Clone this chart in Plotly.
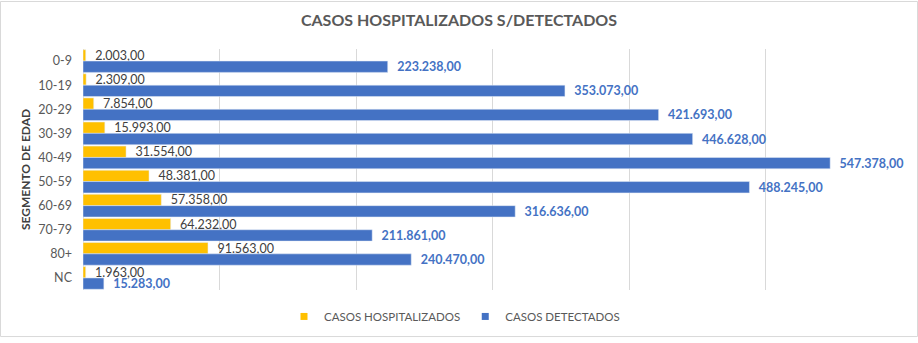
import plotly.graph_objects as go

categories = ["0-9", "10-19", "20-29", "30-39", "40-49", "50-59", "60-69", "70-79", "80+", "NC"]
hospitalizados = [2003, 2309, 7854, 15993, 31554, 48381, 57358, 64232, 91563, 1963]
detectados = [223238, 353073, 421693, 446628, 547378, 488245, 316636, 211861, 240470, 15283]

W, H = 918, 343
ML, MR, MT, MB = 83, 16, 49, 48
FONT = "Lato, Open Sans, sans-serif"
YEL, BLU = "#FFC000", "#4472C4"

fig = go.Figure()
fig.add_trace(go.Bar(
    y=categories, x=hospitalizados, orientation="h", name="CASOS HOSPITALIZADOS",
    marker_color=YEL, texttemplate="  %{x:,.2f}",
    textposition="outside", cliponaxis=False, constraintext="none", showlegend=False,
    textfont=dict(family=FONT, size=12.5, color="#404040"),
))
fig.add_trace(go.Bar(
    y=categories, x=detectados, orientation="h", name="CASOS DETECTADOS",
    marker_color=BLU, texttemplate="  <b>%{x:,.2f}</b>",
    textposition="outside", cliponaxis=False, constraintext="none", showlegend=False,
    textfont=dict(family=FONT, size=12.5, color=BLU),
))
for nm, col in [("CASOS HOSPITALIZADOS", YEL), ("CASOS DETECTADOS", BLU)]:
    fig.add_trace(go.Scatter(x=[None], y=[None], mode="markers", name=nm,
                             marker=dict(symbol="square", size=7, color=col)))

pw = W - ML - MR
ph = H - MT - MB
fig.add_shape(type="rect", xref="paper", yref="paper",
              x0=(0.5 - ML) / pw, x1=(W - 0.5 - ML) / pw,
              y0=-(MB - 0.5) / ph, y1=1 + (MT - 0.5) / ph,
              line=dict(color="#D9D9D9", width=1), fillcolor="rgba(0,0,0,0)", layer="below")

fig.update_layout(
    width=W, height=H,
    margin=dict(l=ML, r=MR, t=MT, b=MB),
    paper_bgcolor="white", plot_bgcolor="white",
    separators=",.",
    barmode="group", bargap=0.06, bargroupgap=0,
    title=dict(text="<b>CASOS HOSPITALIZADOS S/DETECTADOS</b>", x=0.5, xanchor="center",
               y=1 - 20 / H, yanchor="middle",
               font=dict(family=FONT, size=16, color="#595959")),
    xaxis=dict(range=[0, 600000], dtick=100000, showticklabels=False, showgrid=True,
               gridcolor="#D9D9D9", gridwidth=1, zeroline=True, zerolinecolor="#D9D9D9",
               zerolinewidth=1, fixedrange=True),
    yaxis=dict(autorange="reversed", showgrid=False, ticks="", ticklen=0, ticklabelstandoff=10,
               tickfont=dict(family=FONT, size=12.5, color="#595959"),
               title=dict(text="<b>SEGMENTO DE EDAD</b>", standoff=5,
                          font=dict(family=FONT, size=12, color="#404040"))),
    legend=dict(orientation="h", x=0.5 - 38 / pw, xanchor="center", y=-(322 - (H - MB)) / ph,
                yanchor="middle",
                font=dict(family=FONT, size=11.5, color="#595959"),
                itemwidth=30, traceorder="normal"),
    showlegend=True,
)

fig.write_html("out.html")
